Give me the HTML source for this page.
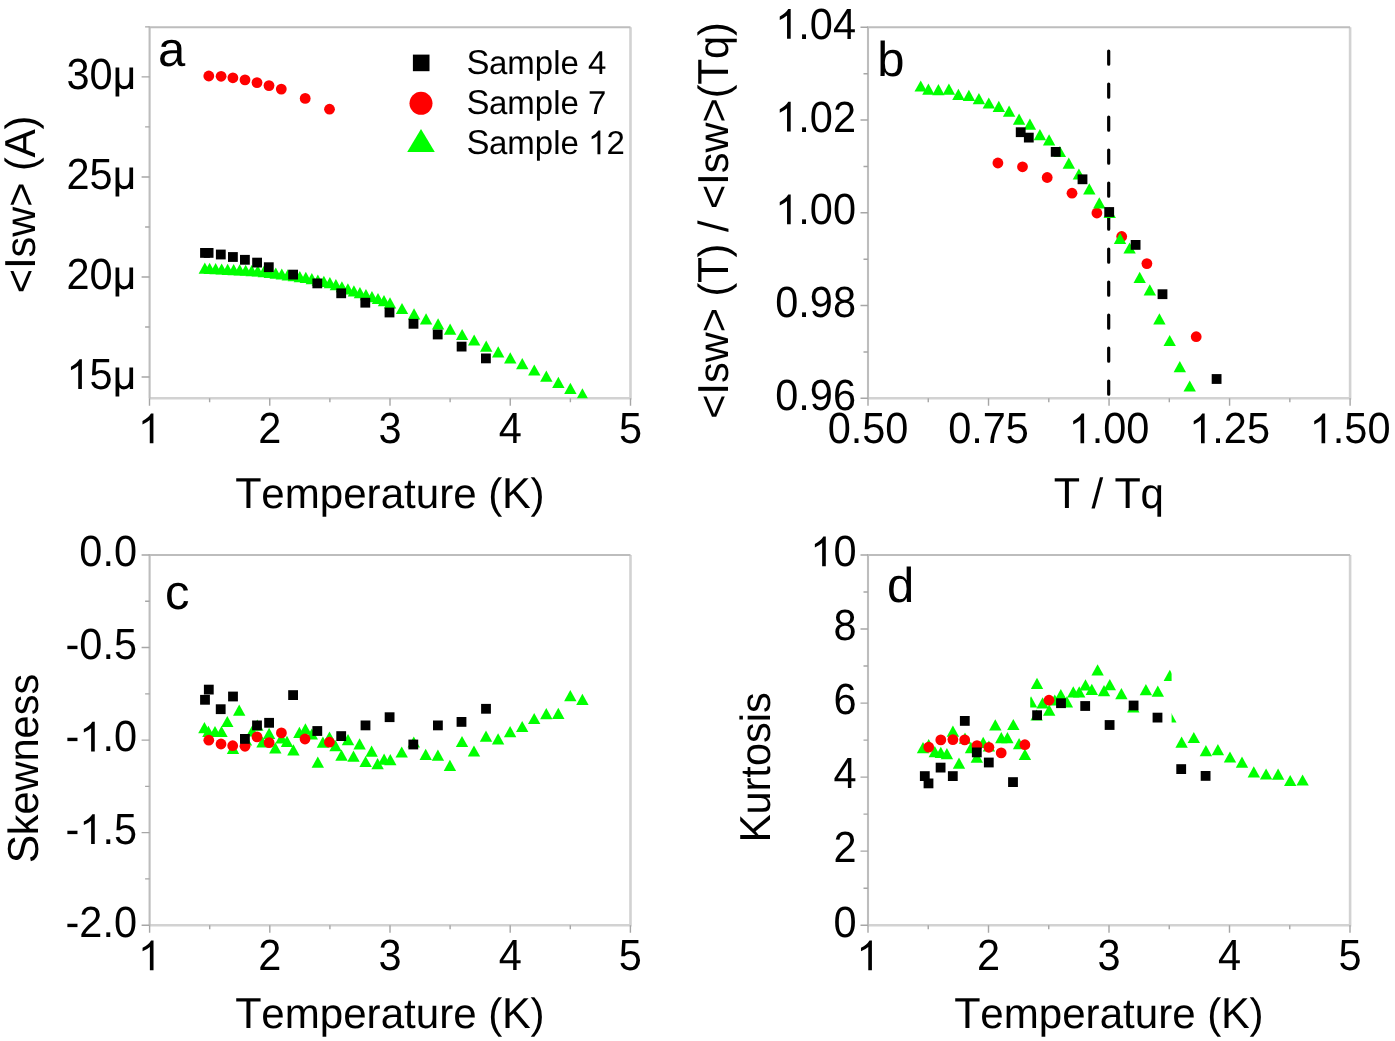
<!DOCTYPE html>
<html><head><meta charset="utf-8"><title>Figure</title>
<style>html,body{margin:0;padding:0;background:#fff;}body{width:1395px;height:1041px;overflow:hidden;}svg{display:block;filter:blur(0.45px);}text{font-kerning:none;text-rendering:geometricPrecision;}</style>
</head><body>
<svg width="1395" height="1041" viewBox="0 0 1395 1041" font-family='"Liberation Sans", sans-serif' fill="#000">
<rect width="1395" height="1041" fill="#fff"/>
<defs><clipPath id="ca"><rect x="149.6" y="27.3" width="480.9" height="370.9"/></clipPath><clipPath id="cdl"><rect x="0" y="0" width="1171.6" height="1041"/></clipPath><clipPath id="cdr"><rect x="1171.6" y="0" width="300" height="1041"/></clipPath><clipPath id="cd2"><rect x="1030.2" y="0" width="300" height="1041"/></clipPath></defs>
<path d="M149.6 398.2H630.5V27.3" fill="none" stroke="#d2d2d2" stroke-width="2.6"/>
<path d="M149.6 398.2V27.3H630.5" fill="none" stroke="#bdbdbd" stroke-width="2.1"/>
<path d="M149.6 377.00h-8M149.6 276.97h-8M149.6 176.94h-8M149.6 76.90h-8M149.6 326.99h-4.5M149.6 226.95h-4.5M149.6 126.92h-4.5M149.6 26.88h-4.5" stroke="#a6a6a6" stroke-width="1.4" fill="none"/>
<path d="M149.50 398.2v7.5M269.75 398.2v7.5M390.00 398.2v7.5M510.25 398.2v7.5M630.50 398.2v7.5M209.62 398.2v4M329.88 398.2v4M450.12 398.2v4M570.38 398.2v4" stroke="#a6a6a6" stroke-width="1.4" fill="none"/>
<g transform="translate(136.50 389.00) scale(1.0 1.05)"><text y="0" font-size="41.5"><tspan x="-46.991">5</tspan></text><path transform="translate(-70.072 0) scale(0.020264 -0.019299)" d="M763 0L583 0L583 1147Q480 1050 223 930L223 1104Q520 1250 643 1466L763 1466Z"/><path transform="translate(-23.911 0) scale(0.020264 -0.019299)" d="M146 1062L146 -375L330 -375L330 90Q420 -20 560 -20Q720 -20 840 110L850 110L850 0L1012 0L1012 1062L830 1062L830 480Q830 300 760 220Q690 140 580 140Q460 140 395 215Q330 290 330 470L330 1062Z"/></g>
<g transform="translate(136.50 288.97) scale(1.0 1.05)"><text y="0" font-size="41.5"><tspan x="-70.072">2</tspan><tspan x="-46.991">0</tspan></text><path transform="translate(-23.911 0) scale(0.020264 -0.019299)" d="M146 1062L146 -375L330 -375L330 90Q420 -20 560 -20Q720 -20 840 110L850 110L850 0L1012 0L1012 1062L830 1062L830 480Q830 300 760 220Q690 140 580 140Q460 140 395 215Q330 290 330 470L330 1062Z"/></g>
<g transform="translate(136.50 188.94) scale(1.0 1.05)"><text y="0" font-size="41.5"><tspan x="-70.072">2</tspan><tspan x="-46.991">5</tspan></text><path transform="translate(-23.911 0) scale(0.020264 -0.019299)" d="M146 1062L146 -375L330 -375L330 90Q420 -20 560 -20Q720 -20 840 110L850 110L850 0L1012 0L1012 1062L830 1062L830 480Q830 300 760 220Q690 140 580 140Q460 140 395 215Q330 290 330 470L330 1062Z"/></g>
<g transform="translate(136.50 88.90) scale(1.0 1.05)"><text y="0" font-size="41.5"><tspan x="-70.072">3</tspan><tspan x="-46.991">0</tspan></text><path transform="translate(-23.911 0) scale(0.020264 -0.019299)" d="M146 1062L146 -375L330 -375L330 90Q420 -20 560 -20Q720 -20 840 110L850 110L850 0L1012 0L1012 1062L830 1062L830 480Q830 300 760 220Q690 140 580 140Q460 140 395 215Q330 290 330 470L330 1062Z"/></g>
<g transform="translate(149.50 443.30) scale(1.0 1.05)"><text y="0" font-size="41.5"></text><path transform="translate(-11.540 0) scale(0.020264 -0.019299)" d="M763 0L583 0L583 1147Q480 1050 223 930L223 1104Q520 1250 643 1466L763 1466Z"/></g>
<g transform="translate(269.75 443.30) scale(1.0 1.05)"><text y="0" font-size="41.5"><tspan x="-11.540">2</tspan></text></g>
<g transform="translate(390.00 443.30) scale(1.0 1.05)"><text y="0" font-size="41.5"><tspan x="-11.540">3</tspan></text></g>
<g transform="translate(510.25 443.30) scale(1.0 1.05)"><text y="0" font-size="41.5"><tspan x="-11.540">4</tspan></text></g>
<g transform="translate(630.50 443.30) scale(1.0 1.05)"><text y="0" font-size="41.5"><tspan x="-11.540">5</tspan></text></g>
<g transform="translate(390.00 507.70) scale(1.015 1.02)"><text y="0" font-size="41.5"><tspan x="-152.521" font-size="42.517">T</tspan><tspan x="-126.861">e</tspan><tspan x="-103.780">m</tspan><tspan x="-69.211">p</tspan><tspan x="-46.130">e</tspan><tspan x="-23.050">r</tspan><tspan x="-9.230">a</tspan><tspan x="13.850">t</tspan><tspan x="25.380">u</tspan><tspan x="48.461">r</tspan><tspan x="62.280">e</tspan><tspan x="96.891">(</tspan><tspan x="110.371" font-size="42.517">K</tspan><tspan x="138.391">)</tspan></text></g>
<g transform="translate(35.00 204.40) rotate(-90) scale(1.0 1.02)"><text y="0" font-size="41.5"><tspan x="-88.785">&lt;</tspan><tspan x="-64.691" font-size="42.517">I</tspan><tspan x="-53.020">s</tspan><tspan x="-32.270">w</tspan><tspan x="-2.300">&gt;</tspan><tspan x="33.465">(</tspan><tspan x="46.946" font-size="42.517">A</tspan><tspan x="74.965">)</tspan></text></g>
<g transform="translate(158.00 65.50)"><text y="0" font-size="49"><tspan x="0.000">a</tspan></text></g>
<rect x="412.90" y="54.60" width="16.60" height="16.60" fill="#000"/>
<circle cx="421.00" cy="103.30" r="11.50" fill="#f00"/>
<path d="M421.00 129.10L434.80 152.10L407.20 152.10Z" fill="#0f0"/>
<g transform="translate(467.00 74.10)"><text y="0" font-size="33"><tspan x="-0.495" font-size="34.485">S</tspan><tspan x="22.011">a</tspan><tspan x="40.364">m</tspan><tspan x="67.853">p</tspan><tspan x="86.206">l</tspan><tspan x="93.538">e</tspan><tspan x="121.059">4</tspan></text></g>
<g transform="translate(467.00 114.40)"><text y="0" font-size="33"><tspan x="-0.495" font-size="34.485">S</tspan><tspan x="22.011">a</tspan><tspan x="40.364">m</tspan><tspan x="67.853">p</tspan><tspan x="86.206">l</tspan><tspan x="93.538">e</tspan><tspan x="121.059">7</tspan></text></g>
<g transform="translate(467.00 154.20)"><text y="0" font-size="33"><tspan x="-0.495" font-size="34.485">S</tspan><tspan x="22.011">a</tspan><tspan x="40.364">m</tspan><tspan x="67.853">p</tspan><tspan x="86.206">l</tspan><tspan x="93.538">e</tspan><tspan x="139.412">2</tspan></text><path transform="translate(121.059 0) scale(0.016113 -0.016113)" d="M763 0L583 0L583 1147Q480 1050 223 930L223 1104Q520 1250 643 1466L763 1466Z"/></g>
<path d="M204.81 262.60L211.01 273.80L198.62 273.80Z" fill="#0f0" clip-path="url(#ca)"/>
<path d="M209.62 262.83L215.82 274.03L203.43 274.03Z" fill="#0f0" clip-path="url(#ca)"/>
<path d="M215.64 263.11L221.84 274.31L209.44 274.31Z" fill="#0f0" clip-path="url(#ca)"/>
<path d="M221.65 263.40L227.85 274.60L215.45 274.60Z" fill="#0f0" clip-path="url(#ca)"/>
<path d="M227.66 263.72L233.86 274.92L221.46 274.92Z" fill="#0f0" clip-path="url(#ca)"/>
<path d="M233.68 264.03L239.88 275.23L227.48 275.23Z" fill="#0f0" clip-path="url(#ca)"/>
<path d="M239.69 264.35L245.89 275.55L233.49 275.55Z" fill="#0f0" clip-path="url(#ca)"/>
<path d="M245.70 264.67L251.90 275.87L239.50 275.87Z" fill="#0f0" clip-path="url(#ca)"/>
<path d="M251.71 264.98L257.91 276.18L245.51 276.18Z" fill="#0f0" clip-path="url(#ca)"/>
<path d="M257.73 265.30L263.93 276.50L251.53 276.50Z" fill="#0f0" clip-path="url(#ca)"/>
<path d="M263.74 266.07L269.94 277.27L257.54 277.27Z" fill="#0f0" clip-path="url(#ca)"/>
<path d="M269.75 266.85L275.95 278.05L263.55 278.05Z" fill="#0f0" clip-path="url(#ca)"/>
<path d="M275.76 267.62L281.96 278.82L269.56 278.82Z" fill="#0f0" clip-path="url(#ca)"/>
<path d="M281.77 268.40L287.97 279.60L275.57 279.60Z" fill="#0f0" clip-path="url(#ca)"/>
<path d="M287.79 269.25L293.99 280.45L281.59 280.45Z" fill="#0f0" clip-path="url(#ca)"/>
<path d="M293.80 270.10L300.00 281.30L287.60 281.30Z" fill="#0f0" clip-path="url(#ca)"/>
<path d="M299.81 270.95L306.01 282.15L293.61 282.15Z" fill="#0f0" clip-path="url(#ca)"/>
<path d="M305.82 271.80L312.02 283.00L299.62 283.00Z" fill="#0f0" clip-path="url(#ca)"/>
<path d="M311.84 273.12L318.04 284.32L305.64 284.32Z" fill="#0f0" clip-path="url(#ca)"/>
<path d="M317.85 274.45L324.05 285.65L311.65 285.65Z" fill="#0f0" clip-path="url(#ca)"/>
<path d="M323.86 275.77L330.06 286.98L317.66 286.98Z" fill="#0f0" clip-path="url(#ca)"/>
<path d="M329.88 277.10L336.07 288.30L323.68 288.30Z" fill="#0f0" clip-path="url(#ca)"/>
<path d="M335.89 279.12L342.09 290.32L329.69 290.32Z" fill="#0f0" clip-path="url(#ca)"/>
<path d="M341.90 281.15L348.10 292.35L335.70 292.35Z" fill="#0f0" clip-path="url(#ca)"/>
<path d="M347.91 283.17L354.11 294.38L341.71 294.38Z" fill="#0f0" clip-path="url(#ca)"/>
<path d="M353.93 285.20L360.12 296.40L347.73 296.40Z" fill="#0f0" clip-path="url(#ca)"/>
<path d="M359.94 287.12L366.14 298.33L353.74 298.33Z" fill="#0f0" clip-path="url(#ca)"/>
<path d="M365.95 289.05L372.15 300.25L359.75 300.25Z" fill="#0f0" clip-path="url(#ca)"/>
<path d="M371.96 290.97L378.16 302.18L365.76 302.18Z" fill="#0f0" clip-path="url(#ca)"/>
<path d="M377.98 292.90L384.18 304.10L371.78 304.10Z" fill="#0f0" clip-path="url(#ca)"/>
<path d="M383.99 295.05L390.19 306.25L377.79 306.25Z" fill="#0f0" clip-path="url(#ca)"/>
<path d="M390.00 297.20L396.20 308.40L383.80 308.40Z" fill="#0f0" clip-path="url(#ca)"/>
<path d="M402.02 302.90L408.22 314.10L395.82 314.10Z" fill="#0f0" clip-path="url(#ca)"/>
<path d="M414.05 308.30L420.25 319.50L407.85 319.50Z" fill="#0f0" clip-path="url(#ca)"/>
<path d="M426.07 313.30L432.27 324.50L419.88 324.50Z" fill="#0f0" clip-path="url(#ca)"/>
<path d="M438.10 318.20L444.30 329.40L431.90 329.40Z" fill="#0f0" clip-path="url(#ca)"/>
<path d="M450.12 323.50L456.32 334.70L443.93 334.70Z" fill="#0f0" clip-path="url(#ca)"/>
<path d="M462.15 328.90L468.35 340.10L455.95 340.10Z" fill="#0f0" clip-path="url(#ca)"/>
<path d="M474.18 334.40L480.38 345.60L467.98 345.60Z" fill="#0f0" clip-path="url(#ca)"/>
<path d="M486.20 340.50L492.40 351.70L480.00 351.70Z" fill="#0f0" clip-path="url(#ca)"/>
<path d="M498.22 346.20L504.42 357.40L492.02 357.40Z" fill="#0f0" clip-path="url(#ca)"/>
<path d="M510.25 352.30L516.45 363.50L504.05 363.50Z" fill="#0f0" clip-path="url(#ca)"/>
<path d="M522.27 358.10L528.48 369.30L516.07 369.30Z" fill="#0f0" clip-path="url(#ca)"/>
<path d="M534.30 364.40L540.50 375.60L528.10 375.60Z" fill="#0f0" clip-path="url(#ca)"/>
<path d="M546.33 370.50L552.53 381.70L540.12 381.70Z" fill="#0f0" clip-path="url(#ca)"/>
<path d="M558.35 376.70L564.55 387.90L552.15 387.90Z" fill="#0f0" clip-path="url(#ca)"/>
<path d="M570.38 382.80L576.58 394.00L564.17 394.00Z" fill="#0f0" clip-path="url(#ca)"/>
<path d="M582.40 388.30L588.60 399.50L576.20 399.50Z" fill="#0f0" clip-path="url(#ca)"/>
<circle cx="208.80" cy="76.00" r="5.40" fill="#f00"/>
<circle cx="221.10" cy="76.30" r="5.40" fill="#f00"/>
<circle cx="232.90" cy="77.80" r="5.40" fill="#f00"/>
<circle cx="245.00" cy="79.90" r="5.40" fill="#f00"/>
<circle cx="257.00" cy="82.60" r="5.40" fill="#f00"/>
<circle cx="269.00" cy="85.60" r="5.40" fill="#f00"/>
<circle cx="281.30" cy="89.10" r="5.40" fill="#f00"/>
<circle cx="305.20" cy="98.40" r="5.40" fill="#f00"/>
<circle cx="329.50" cy="109.20" r="5.40" fill="#f00"/>
<rect x="200.10" y="248.00" width="9.80" height="9.80" fill="#000"/>
<rect x="203.70" y="248.00" width="9.80" height="9.80" fill="#000"/>
<rect x="215.90" y="249.60" width="9.80" height="9.80" fill="#000"/>
<rect x="228.00" y="252.10" width="9.80" height="9.80" fill="#000"/>
<rect x="240.00" y="254.90" width="9.80" height="9.80" fill="#000"/>
<rect x="252.20" y="257.70" width="9.80" height="9.80" fill="#000"/>
<rect x="263.90" y="262.30" width="9.80" height="9.80" fill="#000"/>
<rect x="288.20" y="269.70" width="9.80" height="9.80" fill="#000"/>
<rect x="312.40" y="278.50" width="9.80" height="9.80" fill="#000"/>
<rect x="336.30" y="288.40" width="9.80" height="9.80" fill="#000"/>
<rect x="360.40" y="297.80" width="9.80" height="9.80" fill="#000"/>
<rect x="384.60" y="307.60" width="9.80" height="9.80" fill="#000"/>
<rect x="408.60" y="318.90" width="9.80" height="9.80" fill="#000"/>
<rect x="432.80" y="329.60" width="9.80" height="9.80" fill="#000"/>
<rect x="456.70" y="341.70" width="9.80" height="9.80" fill="#000"/>
<rect x="481.00" y="353.50" width="9.80" height="9.80" fill="#000"/>
<path d="M868.0 398.2H1350.1V27.3" fill="none" stroke="#d2d2d2" stroke-width="2.6"/>
<path d="M868.0 398.2V27.3H1350.1" fill="none" stroke="#bdbdbd" stroke-width="2.1"/>
<path d="M868.0 398.30h-7.5M868.0 305.55h-7.5M868.0 212.80h-7.5M868.0 120.05h-7.5M868.0 27.30h-7.5M868.0 351.93h-4.5M868.0 259.18h-4.5M868.0 166.43h-4.5M868.0 73.68h-4.5" stroke="#a6a6a6" stroke-width="1.4" fill="none"/>
<path d="M868.00 398.2v7.5M988.52 398.2v7.5M1109.05 398.2v7.5M1229.58 398.2v7.5M1350.10 398.2v7.5M928.26 398.2v4M1048.79 398.2v4M1169.31 398.2v4M1289.84 398.2v4" stroke="#a6a6a6" stroke-width="1.4" fill="none"/>
<g transform="translate(856.00 409.80) scale(1.0 1.05)"><text y="0" font-size="41.5"><tspan x="-80.771">0</tspan><tspan x="-57.691">.</tspan><tspan x="-46.161">9</tspan><tspan x="-23.080">6</tspan></text></g>
<g transform="translate(856.00 317.05) scale(1.0 1.05)"><text y="0" font-size="41.5"><tspan x="-80.771">0</tspan><tspan x="-57.691">.</tspan><tspan x="-46.161">9</tspan><tspan x="-23.080">8</tspan></text></g>
<g transform="translate(856.00 224.30) scale(1.0 1.05)"><text y="0" font-size="41.5"><tspan x="-57.691">.</tspan><tspan x="-46.161">0</tspan><tspan x="-23.080">0</tspan></text><path transform="translate(-80.771 0) scale(0.020264 -0.019299)" d="M763 0L583 0L583 1147Q480 1050 223 930L223 1104Q520 1250 643 1466L763 1466Z"/></g>
<g transform="translate(856.00 131.55) scale(1.0 1.05)"><text y="0" font-size="41.5"><tspan x="-57.691">.</tspan><tspan x="-46.161">0</tspan><tspan x="-23.080">2</tspan></text><path transform="translate(-80.771 0) scale(0.020264 -0.019299)" d="M763 0L583 0L583 1147Q480 1050 223 930L223 1104Q520 1250 643 1466L763 1466Z"/></g>
<g transform="translate(856.00 38.80) scale(1.0 1.05)"><text y="0" font-size="41.5"><tspan x="-57.691">.</tspan><tspan x="-46.161">0</tspan><tspan x="-23.080">4</tspan></text><path transform="translate(-80.771 0) scale(0.020264 -0.019299)" d="M763 0L583 0L583 1147Q480 1050 223 930L223 1104Q520 1250 643 1466L763 1466Z"/></g>
<g transform="translate(868.00 443.30) scale(1.0 1.05)"><text y="0" font-size="41.5"><tspan x="-40.385">0</tspan><tspan x="-17.305">.</tspan><tspan x="-5.775">5</tspan><tspan x="17.305">0</tspan></text></g>
<g transform="translate(988.52 443.30) scale(1.0 1.05)"><text y="0" font-size="41.5"><tspan x="-40.385">0</tspan><tspan x="-17.305">.</tspan><tspan x="-5.775">7</tspan><tspan x="17.305">5</tspan></text></g>
<g transform="translate(1109.05 443.30) scale(1.0 1.05)"><text y="0" font-size="41.5"><tspan x="-17.305">.</tspan><tspan x="-5.775">0</tspan><tspan x="17.305">0</tspan></text><path transform="translate(-40.385 0) scale(0.020264 -0.019299)" d="M763 0L583 0L583 1147Q480 1050 223 930L223 1104Q520 1250 643 1466L763 1466Z"/></g>
<g transform="translate(1229.58 443.30) scale(1.0 1.05)"><text y="0" font-size="41.5"><tspan x="-17.305">.</tspan><tspan x="-5.775">2</tspan><tspan x="17.305">5</tspan></text><path transform="translate(-40.385 0) scale(0.020264 -0.019299)" d="M763 0L583 0L583 1147Q480 1050 223 930L223 1104Q520 1250 643 1466L763 1466Z"/></g>
<g transform="translate(1350.10 443.30) scale(1.0 1.05)"><text y="0" font-size="41.5"><tspan x="-17.305">.</tspan><tspan x="-5.775">5</tspan><tspan x="17.305">0</tspan></text><path transform="translate(-40.385 0) scale(0.020264 -0.019299)" d="M763 0L583 0L583 1147Q480 1050 223 930L223 1104Q520 1250 643 1466L763 1466Z"/></g>
<g transform="translate(1109.00 507.70) scale(1.015 1.02)"><text y="0" font-size="41.5"><tspan x="-54.496" font-size="42.517">T</tspan><tspan x="-17.305">/</tspan><tspan x="5.444" font-size="42.517">T</tspan><tspan x="31.105">q</tspan></text></g>
<g transform="translate(727.70 220.50) rotate(-90) scale(1.0 1.02)"><text y="0" font-size="41.5"><tspan x="-198.310">&lt;</tspan><tspan x="-174.216" font-size="42.517">I</tspan><tspan x="-162.545">s</tspan><tspan x="-141.795">w</tspan><tspan x="-111.825">&gt;</tspan><tspan x="-76.060">(</tspan><tspan x="-62.551" font-size="42.517">T</tspan><tspan x="-36.890">)</tspan><tspan x="-11.540">/</tspan><tspan x="11.520">&lt;</tspan><tspan x="35.614" font-size="42.517">I</tspan><tspan x="47.285">s</tspan><tspan x="68.035">w</tspan><tspan x="98.005">&gt;</tspan><tspan x="122.241">(</tspan><tspan x="135.750" font-size="42.517">T</tspan><tspan x="161.410">q</tspan><tspan x="184.491">)</tspan></text></g>
<g transform="translate(877.20 75.80)"><text y="0" font-size="49"><tspan x="0.000">b</tspan></text></g>
<path d="M1108.7 51V396" stroke="#000" stroke-width="3.2" stroke-linecap="round" stroke-dasharray="13.2 19.8" fill="none"/>
<circle cx="997.90" cy="163.00" r="5.40" fill="#f00"/>
<circle cx="1022.50" cy="166.80" r="5.40" fill="#f00"/>
<circle cx="1047.20" cy="177.50" r="5.40" fill="#f00"/>
<circle cx="1072.00" cy="193.20" r="5.40" fill="#f00"/>
<circle cx="1096.90" cy="213.00" r="5.40" fill="#f00"/>
<circle cx="1121.70" cy="236.50" r="5.40" fill="#f00"/>
<circle cx="1146.90" cy="263.60" r="5.40" fill="#f00"/>
<circle cx="1196.20" cy="336.70" r="5.40" fill="#f00"/>
<path d="M920.70 80.40L926.90 91.60L914.50 91.60Z" fill="#0f0"/>
<path d="M928.40 83.60L934.60 94.80L922.20 94.80Z" fill="#0f0"/>
<path d="M938.40 84.10L944.60 95.30L932.20 95.30Z" fill="#0f0"/>
<path d="M948.90 83.60L955.10 94.80L942.70 94.80Z" fill="#0f0"/>
<path d="M958.40 88.70L964.60 99.90L952.20 99.90Z" fill="#0f0"/>
<path d="M968.90 89.80L975.10 101.00L962.70 101.00Z" fill="#0f0"/>
<path d="M978.90 93.00L985.10 104.20L972.70 104.20Z" fill="#0f0"/>
<path d="M988.80 97.40L995.00 108.60L982.60 108.60Z" fill="#0f0"/>
<path d="M998.80 100.80L1005.00 112.00L992.60 112.00Z" fill="#0f0"/>
<path d="M1009.10 105.60L1015.30 116.80L1002.90 116.80Z" fill="#0f0"/>
<path d="M1019.10 113.60L1025.30 124.80L1012.90 124.80Z" fill="#0f0"/>
<path d="M1029.90 118.50L1036.10 129.70L1023.70 129.70Z" fill="#0f0"/>
<path d="M1039.90 129.00L1046.10 140.20L1033.70 140.20Z" fill="#0f0"/>
<path d="M1049.10 134.30L1055.30 145.50L1042.90 145.50Z" fill="#0f0"/>
<path d="M1059.90 145.90L1066.10 157.10L1053.70 157.10Z" fill="#0f0"/>
<path d="M1068.80 157.60L1075.00 168.80L1062.60 168.80Z" fill="#0f0"/>
<path d="M1078.90 168.40L1085.10 179.60L1072.70 179.60Z" fill="#0f0"/>
<path d="M1089.30 183.30L1095.50 194.50L1083.10 194.50Z" fill="#0f0"/>
<path d="M1099.30 197.30L1105.50 208.50L1093.10 208.50Z" fill="#0f0"/>
<path d="M1109.70 206.90L1115.90 218.10L1103.50 218.10Z" fill="#0f0"/>
<path d="M1120.00 232.80L1126.20 244.00L1113.80 244.00Z" fill="#0f0"/>
<path d="M1129.60 242.40L1135.80 253.60L1123.40 253.60Z" fill="#0f0"/>
<path d="M1139.70 271.70L1145.90 282.90L1133.50 282.90Z" fill="#0f0"/>
<path d="M1149.80 284.20L1156.00 295.40L1143.60 295.40Z" fill="#0f0"/>
<path d="M1159.40 313.30L1165.60 324.50L1153.20 324.50Z" fill="#0f0"/>
<path d="M1169.70 334.90L1175.90 346.10L1163.50 346.10Z" fill="#0f0"/>
<path d="M1179.80 361.10L1186.00 372.30L1173.60 372.30Z" fill="#0f0"/>
<path d="M1189.70 380.40L1195.90 391.60L1183.50 391.60Z" fill="#0f0"/>
<rect x="1015.80" y="127.30" width="9.80" height="9.80" fill="#000"/>
<rect x="1023.90" y="132.70" width="9.80" height="9.80" fill="#000"/>
<rect x="1050.80" y="147.00" width="9.80" height="9.80" fill="#000"/>
<rect x="1077.60" y="174.40" width="9.80" height="9.80" fill="#000"/>
<rect x="1104.30" y="207.10" width="9.80" height="9.80" fill="#000"/>
<rect x="1130.70" y="240.00" width="9.80" height="9.80" fill="#000"/>
<rect x="1157.60" y="289.30" width="9.80" height="9.80" fill="#000"/>
<rect x="1211.70" y="374.10" width="9.80" height="9.80" fill="#000"/>
<path d="M149.6 925.2H630.5V555.0" fill="none" stroke="#d2d2d2" stroke-width="2.6"/>
<path d="M149.6 925.2V555.0H630.5" fill="none" stroke="#bdbdbd" stroke-width="2.1"/>
<path d="M149.6 555.00h-8M149.6 647.55h-8M149.6 740.10h-8M149.6 832.65h-8M149.6 925.20h-8M149.6 601.27h-4.5M149.6 693.83h-4.5M149.6 786.38h-4.5M149.6 878.92h-4.5" stroke="#a6a6a6" stroke-width="1.4" fill="none"/>
<path d="M149.60 925.2v7.5M269.80 925.2v7.5M390.00 925.2v7.5M510.20 925.2v7.5M630.40 925.2v7.5M209.70 925.2v4M329.90 925.2v4M450.10 925.2v4M570.30 925.2v4" stroke="#a6a6a6" stroke-width="1.4" fill="none"/>
<g transform="translate(137.00 566.30) scale(1.0 1.05)"><text y="0" font-size="41.5"><tspan x="-57.691">0</tspan><tspan x="-34.610">.</tspan><tspan x="-23.080">0</tspan></text></g>
<g transform="translate(137.00 658.85) scale(1.0 1.05)"><text y="0" font-size="41.5"><tspan x="-71.510">-</tspan><tspan x="-57.691">0</tspan><tspan x="-34.610">.</tspan><tspan x="-23.080">5</tspan></text></g>
<g transform="translate(137.00 751.40) scale(1.0 1.05)"><text y="0" font-size="41.5"><tspan x="-71.510">-</tspan><tspan x="-34.610">.</tspan><tspan x="-23.080">0</tspan></text><path transform="translate(-57.691 0) scale(0.020264 -0.019299)" d="M763 0L583 0L583 1147Q480 1050 223 930L223 1104Q520 1250 643 1466L763 1466Z"/></g>
<g transform="translate(137.00 843.95) scale(1.0 1.05)"><text y="0" font-size="41.5"><tspan x="-71.510">-</tspan><tspan x="-34.610">.</tspan><tspan x="-23.080">5</tspan></text><path transform="translate(-57.691 0) scale(0.020264 -0.019299)" d="M763 0L583 0L583 1147Q480 1050 223 930L223 1104Q520 1250 643 1466L763 1466Z"/></g>
<g transform="translate(137.00 936.50) scale(1.0 1.05)"><text y="0" font-size="41.5"><tspan x="-71.510">-</tspan><tspan x="-57.691">2</tspan><tspan x="-34.610">.</tspan><tspan x="-23.080">0</tspan></text></g>
<g transform="translate(149.60 970.20) scale(1.0 1.05)"><text y="0" font-size="41.5"></text><path transform="translate(-11.540 0) scale(0.020264 -0.019299)" d="M763 0L583 0L583 1147Q480 1050 223 930L223 1104Q520 1250 643 1466L763 1466Z"/></g>
<g transform="translate(269.80 970.20) scale(1.0 1.05)"><text y="0" font-size="41.5"><tspan x="-11.540">2</tspan></text></g>
<g transform="translate(390.00 970.20) scale(1.0 1.05)"><text y="0" font-size="41.5"><tspan x="-11.540">3</tspan></text></g>
<g transform="translate(510.20 970.20) scale(1.0 1.05)"><text y="0" font-size="41.5"><tspan x="-11.540">4</tspan></text></g>
<g transform="translate(630.40 970.20) scale(1.0 1.05)"><text y="0" font-size="41.5"><tspan x="-11.540">5</tspan></text></g>
<g transform="translate(390.00 1028.20) scale(1.015 1.02)"><text y="0" font-size="41.5"><tspan x="-152.521" font-size="42.517">T</tspan><tspan x="-126.861">e</tspan><tspan x="-103.780">m</tspan><tspan x="-69.211">p</tspan><tspan x="-46.130">e</tspan><tspan x="-23.050">r</tspan><tspan x="-9.230">a</tspan><tspan x="13.850">t</tspan><tspan x="25.380">u</tspan><tspan x="48.461">r</tspan><tspan x="62.280">e</tspan><tspan x="96.891">(</tspan><tspan x="110.371" font-size="42.517">K</tspan><tspan x="138.391">)</tspan></text></g>
<g transform="translate(37.50 768.40) rotate(-90) scale(1.0 1.02)"><text y="0" font-size="41.5"><tspan x="-94.910" font-size="42.517">S</tspan><tspan x="-66.890">k</tspan><tspan x="-46.140">e</tspan><tspan x="-23.060">w</tspan><tspan x="6.910">n</tspan><tspan x="29.990">e</tspan><tspan x="53.071">s</tspan><tspan x="73.821">s</tspan></text></g>
<g transform="translate(164.90 609.00)"><text y="0" font-size="49"><tspan x="0.000">c</tspan></text></g>
<path d="M204.40 722.00L210.60 733.20L198.20 733.20Z" fill="#0f0"/>
<path d="M208.40 725.70L214.60 736.90L202.20 736.90Z" fill="#0f0"/>
<path d="M215.00 725.90L221.20 737.10L208.80 737.10Z" fill="#0f0"/>
<path d="M221.50 725.90L227.70 737.10L215.30 737.10Z" fill="#0f0"/>
<path d="M227.30 715.90L233.50 727.10L221.10 727.10Z" fill="#0f0"/>
<path d="M233.00 742.80L239.20 754.00L226.80 754.00Z" fill="#0f0"/>
<path d="M239.20 704.50L245.40 715.70L233.00 715.70Z" fill="#0f0"/>
<path d="M246.00 734.40L252.20 745.60L239.80 745.60Z" fill="#0f0"/>
<path d="M252.30 725.20L258.50 736.40L246.10 736.40Z" fill="#0f0"/>
<path d="M257.30 719.60L263.50 730.80L251.10 730.80Z" fill="#0f0"/>
<path d="M262.50 736.40L268.70 747.60L256.30 747.60Z" fill="#0f0"/>
<path d="M269.10 727.80L275.30 739.00L262.90 739.00Z" fill="#0f0"/>
<path d="M275.30 742.20L281.50 753.40L269.10 753.40Z" fill="#0f0"/>
<path d="M281.50 732.40L287.70 743.60L275.30 743.60Z" fill="#0f0"/>
<path d="M287.00 735.70L293.20 746.90L280.80 746.90Z" fill="#0f0"/>
<path d="M293.40 744.20L299.60 755.40L287.20 755.40Z" fill="#0f0"/>
<path d="M299.40 726.70L305.60 737.90L293.20 737.90Z" fill="#0f0"/>
<path d="M305.40 723.20L311.60 734.40L299.20 734.40Z" fill="#0f0"/>
<path d="M311.80 728.40L318.00 739.60L305.60 739.60Z" fill="#0f0"/>
<path d="M317.80 756.50L324.00 767.70L311.60 767.70Z" fill="#0f0"/>
<path d="M322.90 736.60L329.10 747.80L316.70 747.80Z" fill="#0f0"/>
<path d="M329.50 731.40L335.70 742.60L323.30 742.60Z" fill="#0f0"/>
<path d="M335.50 740.00L341.70 751.20L329.30 751.20Z" fill="#0f0"/>
<path d="M341.50 749.50L347.70 760.70L335.30 760.70Z" fill="#0f0"/>
<path d="M348.00 734.10L354.20 745.30L341.80 745.30Z" fill="#0f0"/>
<path d="M353.50 750.50L359.70 761.70L347.30 761.70Z" fill="#0f0"/>
<path d="M359.60 738.30L365.80 749.50L353.40 749.50Z" fill="#0f0"/>
<path d="M365.60 755.90L371.80 767.10L359.40 767.10Z" fill="#0f0"/>
<path d="M371.60 745.60L377.80 756.80L365.40 756.80Z" fill="#0f0"/>
<path d="M377.60 758.10L383.80 769.30L371.40 769.30Z" fill="#0f0"/>
<path d="M384.10 753.60L390.30 764.80L377.90 764.80Z" fill="#0f0"/>
<path d="M390.30 754.00L396.50 765.20L384.10 765.20Z" fill="#0f0"/>
<path d="M401.70 746.40L407.90 757.60L395.50 757.60Z" fill="#0f0"/>
<path d="M413.80 736.40L420.00 747.60L407.60 747.60Z" fill="#0f0"/>
<path d="M425.70 748.70L431.90 759.90L419.50 759.90Z" fill="#0f0"/>
<path d="M437.90 749.50L444.10 760.70L431.70 760.70Z" fill="#0f0"/>
<path d="M449.90 759.70L456.10 770.90L443.70 770.90Z" fill="#0f0"/>
<path d="M462.00 735.90L468.20 747.10L455.80 747.10Z" fill="#0f0"/>
<path d="M474.00 745.40L480.20 756.60L467.80 756.60Z" fill="#0f0"/>
<path d="M486.00 730.60L492.20 741.80L479.80 741.80Z" fill="#0f0"/>
<path d="M498.10 733.20L504.30 744.40L491.90 744.40Z" fill="#0f0"/>
<path d="M510.10 726.10L516.30 737.30L503.90 737.30Z" fill="#0f0"/>
<path d="M522.20 720.90L528.40 732.10L516.00 732.10Z" fill="#0f0"/>
<path d="M534.20 712.90L540.40 724.10L528.00 724.10Z" fill="#0f0"/>
<path d="M546.30 708.10L552.50 719.30L540.10 719.30Z" fill="#0f0"/>
<path d="M558.30 707.80L564.50 719.00L552.10 719.00Z" fill="#0f0"/>
<path d="M570.30 690.00L576.50 701.20L564.10 701.20Z" fill="#0f0"/>
<path d="M582.40 693.80L588.60 705.00L576.20 705.00Z" fill="#0f0"/>
<circle cx="208.80" cy="740.20" r="5.40" fill="#f00"/>
<circle cx="221.00" cy="744.00" r="5.40" fill="#f00"/>
<circle cx="232.70" cy="745.70" r="5.40" fill="#f00"/>
<circle cx="245.00" cy="746.30" r="5.40" fill="#f00"/>
<circle cx="257.00" cy="736.90" r="5.40" fill="#f00"/>
<circle cx="269.10" cy="742.60" r="5.40" fill="#f00"/>
<circle cx="281.40" cy="732.90" r="5.40" fill="#f00"/>
<circle cx="305.00" cy="739.00" r="5.40" fill="#f00"/>
<circle cx="329.40" cy="742.20" r="5.40" fill="#f00"/>
<rect x="200.10" y="694.90" width="9.80" height="9.80" fill="#000"/>
<rect x="203.90" y="684.70" width="9.80" height="9.80" fill="#000"/>
<rect x="215.80" y="704.30" width="9.80" height="9.80" fill="#000"/>
<rect x="228.10" y="691.60" width="9.80" height="9.80" fill="#000"/>
<rect x="240.00" y="734.00" width="9.80" height="9.80" fill="#000"/>
<rect x="252.10" y="720.50" width="9.80" height="9.80" fill="#000"/>
<rect x="264.20" y="717.90" width="9.80" height="9.80" fill="#000"/>
<rect x="288.20" y="690.20" width="9.80" height="9.80" fill="#000"/>
<rect x="312.40" y="726.10" width="9.80" height="9.80" fill="#000"/>
<rect x="336.30" y="731.20" width="9.80" height="9.80" fill="#000"/>
<rect x="360.60" y="720.50" width="9.80" height="9.80" fill="#000"/>
<rect x="384.70" y="712.30" width="9.80" height="9.80" fill="#000"/>
<rect x="408.40" y="739.60" width="9.80" height="9.80" fill="#000"/>
<rect x="433.00" y="720.50" width="9.80" height="9.80" fill="#000"/>
<rect x="456.60" y="717.00" width="9.80" height="9.80" fill="#000"/>
<rect x="481.10" y="703.90" width="9.80" height="9.80" fill="#000"/>
<path d="M868.0 925.2H1350.1V555.0" fill="none" stroke="#d2d2d2" stroke-width="2.6"/>
<path d="M868.0 925.2V555.0H1350.1" fill="none" stroke="#bdbdbd" stroke-width="2.1"/>
<path d="M868.0 925.20h-7.5M868.0 851.16h-7.5M868.0 777.12h-7.5M868.0 703.08h-7.5M868.0 629.04h-7.5M868.0 555.00h-7.5M868.0 888.18h-4.5M868.0 814.14h-4.5M868.0 740.10h-4.5M868.0 666.06h-4.5M868.0 592.02h-4.5" stroke="#a6a6a6" stroke-width="1.4" fill="none"/>
<path d="M868.00 925.2v7.5M988.50 925.2v7.5M1109.00 925.2v7.5M1229.50 925.2v7.5M1350.00 925.2v7.5M928.25 925.2v4M1048.75 925.2v4M1169.25 925.2v4M1289.75 925.2v4" stroke="#a6a6a6" stroke-width="1.4" fill="none"/>
<g transform="translate(856.50 936.50) scale(1.0 1.05)"><text y="0" font-size="41.5"><tspan x="-23.080">0</tspan></text></g>
<g transform="translate(856.50 862.46) scale(1.0 1.05)"><text y="0" font-size="41.5"><tspan x="-23.080">2</tspan></text></g>
<g transform="translate(856.50 788.42) scale(1.0 1.05)"><text y="0" font-size="41.5"><tspan x="-23.080">4</tspan></text></g>
<g transform="translate(856.50 714.38) scale(1.0 1.05)"><text y="0" font-size="41.5"><tspan x="-23.080">6</tspan></text></g>
<g transform="translate(856.50 640.34) scale(1.0 1.05)"><text y="0" font-size="41.5"><tspan x="-23.080">8</tspan></text></g>
<g transform="translate(856.50 566.30) scale(1.0 1.05)"><text y="0" font-size="41.5"><tspan x="-23.080">0</tspan></text><path transform="translate(-46.161 0) scale(0.020264 -0.019299)" d="M763 0L583 0L583 1147Q480 1050 223 930L223 1104Q520 1250 643 1466L763 1466Z"/></g>
<g transform="translate(868.00 970.20) scale(1.0 1.05)"><text y="0" font-size="41.5"></text><path transform="translate(-11.540 0) scale(0.020264 -0.019299)" d="M763 0L583 0L583 1147Q480 1050 223 930L223 1104Q520 1250 643 1466L763 1466Z"/></g>
<g transform="translate(988.50 970.20) scale(1.0 1.05)"><text y="0" font-size="41.5"><tspan x="-11.540">2</tspan></text></g>
<g transform="translate(1109.00 970.20) scale(1.0 1.05)"><text y="0" font-size="41.5"><tspan x="-11.540">3</tspan></text></g>
<g transform="translate(1229.50 970.20) scale(1.0 1.05)"><text y="0" font-size="41.5"><tspan x="-11.540">4</tspan></text></g>
<g transform="translate(1350.00 970.20) scale(1.0 1.05)"><text y="0" font-size="41.5"><tspan x="-11.540">5</tspan></text></g>
<g transform="translate(1109.00 1028.20) scale(1.015 1.02)"><text y="0" font-size="41.5"><tspan x="-152.521" font-size="42.517">T</tspan><tspan x="-126.861">e</tspan><tspan x="-103.780">m</tspan><tspan x="-69.211">p</tspan><tspan x="-46.130">e</tspan><tspan x="-23.050">r</tspan><tspan x="-9.230">a</tspan><tspan x="13.850">t</tspan><tspan x="25.380">u</tspan><tspan x="48.461">r</tspan><tspan x="62.280">e</tspan><tspan x="96.891">(</tspan><tspan x="110.371" font-size="42.517">K</tspan><tspan x="138.391">)</tspan></text></g>
<g transform="translate(770.40 767.25) rotate(-90) scale(1.0 1.02)"><text y="0" font-size="41.5"><tspan x="-75.295" font-size="42.517">K</tspan><tspan x="-47.275">u</tspan><tspan x="-24.195">r</tspan><tspan x="-10.375">t</tspan><tspan x="1.155">o</tspan><tspan x="24.235">s</tspan><tspan x="44.985">i</tspan><tspan x="54.205">s</tspan></text></g>
<g transform="translate(886.90 602.00)"><text y="0" font-size="49"><tspan x="0.000">d</tspan></text></g>
<path d="M923.00 742.10L929.20 753.30L916.80 753.30Z" fill="#0f0"/>
<path d="M928.70 738.90L934.90 750.10L922.50 750.10Z" fill="#0f0"/>
<path d="M934.80 746.10L941.00 757.30L928.60 757.30Z" fill="#0f0"/>
<path d="M940.80 746.70L947.00 757.90L934.60 757.90Z" fill="#0f0"/>
<path d="M946.90 748.10L953.10 759.30L940.70 759.30Z" fill="#0f0"/>
<path d="M952.90 725.60L959.10 736.80L946.70 736.80Z" fill="#0f0"/>
<path d="M959.00 757.60L965.20 768.80L952.80 768.80Z" fill="#0f0"/>
<path d="M965.00 732.60L971.20 743.80L958.80 743.80Z" fill="#0f0"/>
<path d="M971.00 742.10L977.20 753.30L964.80 753.30Z" fill="#0f0"/>
<path d="M976.80 751.50L983.00 762.70L970.60 762.70Z" fill="#0f0"/>
<path d="M983.20 736.70L989.40 747.90L977.00 747.90Z" fill="#0f0"/>
<path d="M988.90 740.40L995.10 751.60L982.70 751.60Z" fill="#0f0"/>
<path d="M995.30 719.30L1001.50 730.50L989.10 730.50Z" fill="#0f0"/>
<path d="M1001.30 732.10L1007.50 743.30L995.10 743.30Z" fill="#0f0"/>
<path d="M1007.40 732.00L1013.60 743.20L1001.20 743.20Z" fill="#0f0"/>
<path d="M1013.30 718.90L1019.50 730.10L1007.10 730.10Z" fill="#0f0"/>
<path d="M1019.10 738.00L1025.30 749.20L1012.90 749.20Z" fill="#0f0"/>
<path d="M1024.90 748.80L1031.10 760.00L1018.70 760.00Z" fill="#0f0"/>
<path d="M1037.00 677.70L1043.20 688.90L1030.80 688.90Z" fill="#0f0"/>
<path d="M1042.60 697.20L1048.80 708.40L1036.40 708.40Z" fill="#0f0"/>
<path d="M1049.20 704.60L1055.40 715.80L1043.00 715.80Z" fill="#0f0"/>
<path d="M1054.80 694.40L1061.00 705.60L1048.60 705.60Z" fill="#0f0"/>
<path d="M1060.80 689.00L1067.00 700.20L1054.60 700.20Z" fill="#0f0"/>
<path d="M1066.90 696.20L1073.10 707.40L1060.70 707.40Z" fill="#0f0"/>
<path d="M1073.30 686.20L1079.50 697.40L1067.10 697.40Z" fill="#0f0"/>
<path d="M1079.20 686.20L1085.40 697.40L1073.00 697.40Z" fill="#0f0"/>
<path d="M1085.50 679.30L1091.70 690.50L1079.30 690.50Z" fill="#0f0"/>
<path d="M1091.80 683.80L1098.00 695.00L1085.60 695.00Z" fill="#0f0"/>
<path d="M1097.60 664.30L1103.80 675.50L1091.40 675.50Z" fill="#0f0"/>
<path d="M1104.00 685.10L1110.20 696.30L1097.80 696.30Z" fill="#0f0"/>
<path d="M1109.80 679.10L1116.00 690.30L1103.60 690.30Z" fill="#0f0"/>
<path d="M1121.40 688.00L1127.60 699.20L1115.20 699.20Z" fill="#0f0"/>
<path d="M1133.30 701.40L1139.50 712.60L1127.10 712.60Z" fill="#0f0"/>
<path d="M1145.90 684.00L1152.10 695.20L1139.70 695.20Z" fill="#0f0"/>
<path d="M1157.80 685.60L1164.00 696.80L1151.60 696.80Z" fill="#0f0"/>
<path d="M1031.00 696.30L1037.20 707.50L1024.80 707.50Z" fill="#0f0" clip-path="url(#cd2)"/>
<path d="M1036.60 709.40L1042.80 720.60L1030.40 720.60Z" fill="#0f0"/>
<path d="M1169.80 669.80L1176.00 681.00L1163.60 681.00Z" fill="#0f0" clip-path="url(#cdl)"/>
<path d="M1170.30 711.30L1176.50 722.50L1164.10 722.50Z" fill="#0f0" clip-path="url(#cdr)"/>
<path d="M1181.60 736.50L1187.80 747.70L1175.40 747.70Z" fill="#0f0"/>
<path d="M1193.80 731.90L1200.00 743.10L1187.60 743.10Z" fill="#0f0"/>
<path d="M1205.90 745.10L1212.10 756.30L1199.70 756.30Z" fill="#0f0"/>
<path d="M1217.90 744.00L1224.10 755.20L1211.70 755.20Z" fill="#0f0"/>
<path d="M1230.00 751.40L1236.20 762.60L1223.80 762.60Z" fill="#0f0"/>
<path d="M1242.00 756.60L1248.20 767.80L1235.80 767.80Z" fill="#0f0"/>
<path d="M1253.80 766.30L1260.00 777.50L1247.60 777.50Z" fill="#0f0"/>
<path d="M1266.10 768.40L1272.30 779.60L1259.90 779.60Z" fill="#0f0"/>
<path d="M1278.10 768.60L1284.30 779.80L1271.90 779.80Z" fill="#0f0"/>
<path d="M1290.20 774.90L1296.40 786.10L1284.00 786.10Z" fill="#0f0"/>
<path d="M1302.60 774.40L1308.80 785.60L1296.40 785.60Z" fill="#0f0"/>
<circle cx="928.70" cy="747.10" r="5.40" fill="#f00"/>
<circle cx="940.80" cy="739.90" r="5.40" fill="#f00"/>
<circle cx="952.90" cy="739.60" r="5.40" fill="#f00"/>
<circle cx="964.70" cy="739.90" r="5.40" fill="#f00"/>
<circle cx="977.00" cy="745.60" r="5.40" fill="#f00"/>
<circle cx="988.90" cy="747.30" r="5.40" fill="#f00"/>
<circle cx="1001.20" cy="752.90" r="5.40" fill="#f00"/>
<circle cx="1024.90" cy="744.70" r="5.40" fill="#f00"/>
<circle cx="1049.00" cy="700.20" r="5.40" fill="#f00"/>
<rect x="919.90" y="771.20" width="9.80" height="9.80" fill="#000"/>
<rect x="923.60" y="778.50" width="9.80" height="9.80" fill="#000"/>
<rect x="935.70" y="762.70" width="9.80" height="9.80" fill="#000"/>
<rect x="947.90" y="771.20" width="9.80" height="9.80" fill="#000"/>
<rect x="959.90" y="716.00" width="9.80" height="9.80" fill="#000"/>
<rect x="971.90" y="747.50" width="9.80" height="9.80" fill="#000"/>
<rect x="983.90" y="757.60" width="9.80" height="9.80" fill="#000"/>
<rect x="1008.10" y="777.20" width="9.80" height="9.80" fill="#000"/>
<rect x="1032.20" y="710.30" width="9.80" height="9.80" fill="#000"/>
<rect x="1056.10" y="698.30" width="9.80" height="9.80" fill="#000"/>
<rect x="1080.30" y="701.10" width="9.80" height="9.80" fill="#000"/>
<rect x="1104.70" y="720.10" width="9.80" height="9.80" fill="#000"/>
<rect x="1128.70" y="700.60" width="9.80" height="9.80" fill="#000"/>
<rect x="1152.60" y="712.70" width="9.80" height="9.80" fill="#000"/>
<rect x="1176.30" y="764.20" width="9.80" height="9.80" fill="#000"/>
<rect x="1200.70" y="771.00" width="9.80" height="9.80" fill="#000"/>
</svg>
</body></html>
